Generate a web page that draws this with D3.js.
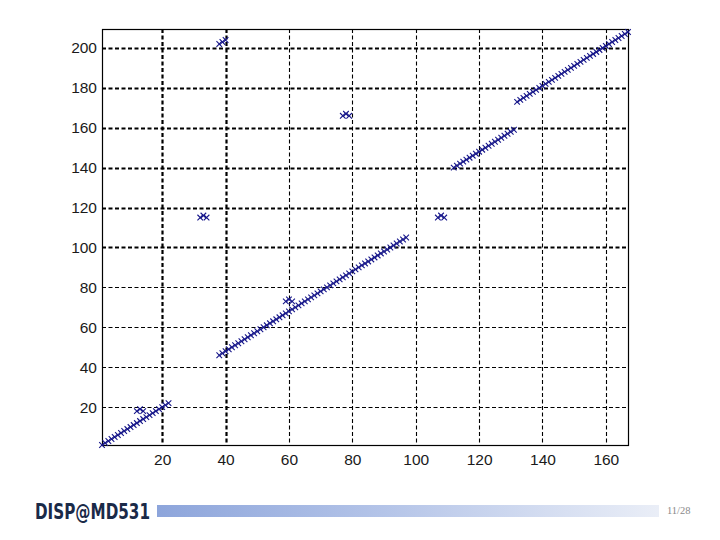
<!DOCTYPE html>
<html>
<head>
<meta charset="utf-8">
<script src="https://cdn.jsdelivr.net/npm/d3@7"></script>
<style>
  html, body { margin: 0; padding: 0; background: #ffffff; }
  svg { display: block; }
</style>
</head>
<body>
<svg id="chart" width="720" height="540"></svg>
<script>
// ---- data ----
const xTicks = [20, 40, 60, 80, 100, 120, 140, 160];
const yTicks = [20, 40, 60, 80, 100, 120, 140, 160, 180, 200];

const seg1X = [1,2,3,4,5,6,7,8,9,10,11,12,13,14,15,16,17,18,19,20,21,22];
const seg1Y = [1,2,3,4,5,6,7,8,9,10,11,12,13,14,15,16,17,18,19,20,21,22];

const seg2X = [38,39,40,41,42,43,44,45,46,47,48,49,50,51,52,53,54,55,56,57,58,59,60,61,62,63,64,65,66,67,
               68,69,70,71,72,73,74,75,76,77,78,79,80,81,82,83,84,85,86,87,88,89,90,91,92,93,94,95,96,97];
const seg2Y = [46,47,48,49,50,51,52,53,54,55,56,57,58,59,60,61,62,63,64,65,66,67,68,69,70,71,72,73,74,75,
               76,77,78,79,80,81,82,83,84,85,86,87,88,89,90,91,92,93,94,95,96,97,98,99,100,101,102,103,104,105];

const seg3X = [112,113,114,115,116,117,118,119,120,121,122,123,124,125,126,127,128,129,130,131];
const seg3Y = [140,141,142,143,144,145,146,147,148,149,150,151,152,153,154,155,156,157,158,159];

const seg4X = [132,133,134,135,136,137,138,139,140,141,142,143,144,145,146,147,148,149,150,151,
               152,153,154,155,156,157,158,159,160,161,162,163,164,165,166,167];
const seg4Y = [173,174,175,176,177,178,179,180,181,182,183,184,185,186,187,188,189,190,191,192,
               193,194,195,196,197,198,199,200,201,202,203,204,205,206,207,208];

const outX = [12,13,14, 32,33,34, 38,39,40, 59,60,61, 77,78,79, 107,108,109];
const outY = [18,19,18, 115,116,115, 202,203,204, 73,74,73, 166,167,166, 115,116,115];

const footerLabel = "DISP@MD531";
const pageLabel = "11/28";

// ---- layout ----
const svg = d3.select("#chart");
const L = 102, R = 628, T = 29, B = 445;

const x = d3.scaleLinear().domain([1, 167]).range([L, R]);
const y = d3.scaleLinear().domain([1, 209.5]).range([B, T]);

// grid
const thickX = new Set([20, 40]);
const thickY = new Set([100, 120, 140, 160, 180, 200]);

const grid = svg.append("g");
grid.selectAll("line.gx").data(xTicks).enter().append("line")
  .attr("x1", d => Math.round(x(d)) + 0.5).attr("x2", d => Math.round(x(d)) + 0.5)
  .attr("y1", T).attr("y2", B)
  .attr("stroke", "#000").attr("stroke-width", d => thickX.has(d) ? 2.2 : 1.1)
  .attr("stroke-dasharray", "4,2.5");
grid.selectAll("line.gy").data(yTicks).enter().append("line")
  .attr("y1", d => Math.round(y(d)) + 0.5).attr("y2", d => Math.round(y(d)) + 0.5)
  .attr("x1", L).attr("x2", R)
  .attr("stroke", "#000").attr("stroke-width", d => thickY.has(d) ? 2.2 : 1.1)
  .attr("stroke-dasharray", "4,2.5");

// axes
const xAxis = d3.axisBottom(x).tickValues(xTicks).tickSize(0).tickPadding(9);
const yAxis = d3.axisLeft(y).tickValues(yTicks).tickSize(0).tickPadding(5);

const gx = svg.append("g").attr("transform", `translate(0,${B})`).call(xAxis);
const gy = svg.append("g").attr("transform", `translate(${L},0)`).call(yAxis);
[gx, gy].forEach(g => {
  g.select(".domain").remove();
  g.selectAll("text")
    .attr("font-family", "Liberation Sans, Arial, sans-serif")
    .attr("font-size", "15.5px")
    .attr("fill", "#1a1a1a");
});

// box
svg.append("rect")
  .attr("x", L + 0.5).attr("y", T + 0.5)
  .attr("width", R - L).attr("height", B - T)
  .attr("fill", "none").attr("stroke", "#000").attr("stroke-width", 1.2);

// markers
const pts = [];
[[seg1X, seg1Y], [seg2X, seg2Y], [seg3X, seg3Y], [seg4X, seg4Y], [outX, outY]].forEach(([xs, ys]) => {
  xs.forEach((v, i) => pts.push([v, ys[i]]));
});

const s = 2.8;
const mk = svg.append("g").attr("stroke", "#16168a").attr("stroke-width", 1.1).attr("fill", "none");
mk.selectAll("path").data(pts).enter().append("path")
  .attr("d", d => {
    const cx = x(d[0]), cy = y(d[1]);
    return `M${cx - s},${cy - s}L${cx + s},${cy + s}M${cx - s},${cy + s}L${cx + s},${cy - s}`;
  });

// footer
const defs = svg.append("defs");
const grad = defs.append("linearGradient").attr("id", "bar").attr("x1", "0%").attr("x2", "100%");
grad.append("stop").attr("offset", "0%").attr("stop-color", "#8da5db");
grad.append("stop").attr("offset", "45%").attr("stop-color", "#b4c4e8");
grad.append("stop").attr("offset", "100%").attr("stop-color", "#eaeef7");

svg.append("rect").attr("x", 157).attr("y", 505).attr("width", 502).attr("height", 12)
  .attr("fill", "url(#bar)");

svg.append("text").attr("x", 35).attr("y", 519)
  .attr("font-family", "Liberation Sans Narrow, DejaVu Sans Condensed, sans-serif")
  .attr("font-size", "21px")
  .attr("font-weight", "bold")
  .attr("fill", "#1a2a48")
  .attr("textLength", 115).attr("lengthAdjust", "spacingAndGlyphs")
  .text(footerLabel);

svg.append("text").attr("x", 667).attr("y", 514)
  .attr("font-family", "Liberation Serif, serif")
  .attr("font-size", "10.5px")
  .attr("fill", "#8a8a8a")
  .text(pageLabel);
</script>
</body>
</html>
